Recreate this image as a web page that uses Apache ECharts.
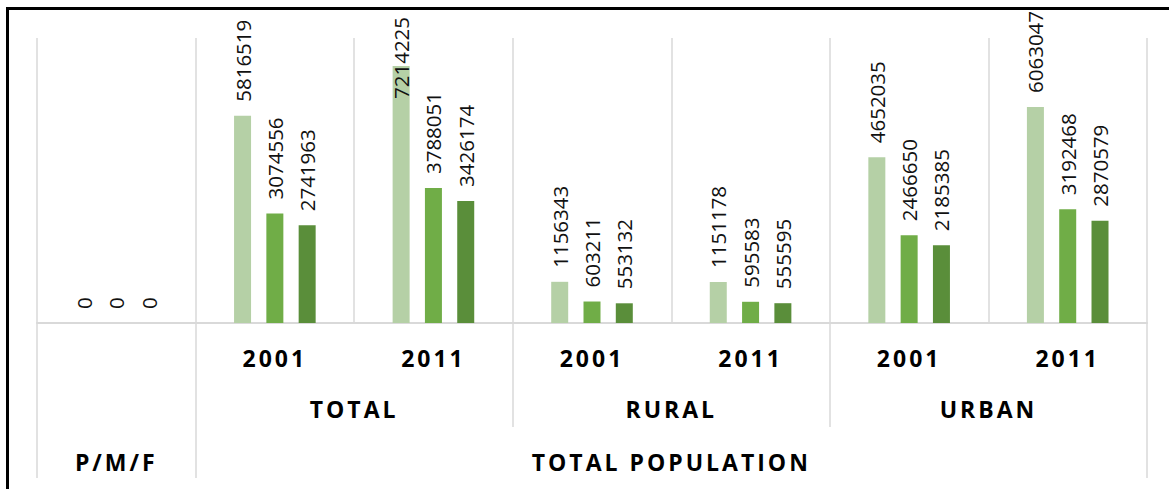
<!DOCTYPE html>
<html>
<head>
<meta charset="utf-8">
<script src="https://cdn.jsdelivr.net/npm/echarts@6/dist/echarts.min.js"></script>
<style>
  html, body { margin: 0; padding: 0; background: #fff; }
  #chart { width: 1169px; height: 489px; }
  /* spaced-out capitals / digits for the bold category labels */
  #chart svg text[style*="bold"] { letter-spacing: 3px; }
</style>
</head>
<body>
<div id="chart"></div>
<script>
// Census year under each bar group (first slot is the empty P/M/F group)
const yearLabels = ['', '2001', '2011', '2001', '2011', '2001', '2011'];
// Second level: area type, centred on its two years
const areaLabels = ['TOTAL', 'RURAL', 'URBAN'];
// Third level: outermost grouping
const outerLabels = ['P/M/F', 'TOTAL POPULATION'];

// Population counts: persons, males, females
const persons = [0, 5816519, 7214225, 1156343, 1151178, 4652035, 6063047];
const males   = [0, 3074556, 3788051,  603211,  595583, 2466650, 3192468];
const females = [0, 2741963, 3426174,  553132,  555595, 2185385, 2870579];

const colors = ['#b5d0a6', '#70ad47', '#5a8e3a'];
const gridColor = '#d9d9d9';
const font = "'Open Sans', 'DejaVu Sans', sans-serif";

const chart = echarts.init(document.getElementById('chart'), null, { renderer: 'svg' });

const valueLabel = {
  show: true,
  position: 'top',
  rotate: 90,
  align: 'left',
  verticalAlign: 'middle',
  distance: 14,
  fontFamily: font,
  fontSize: 20.5,
  color: '#111'
};

function barSeries(name, values, color, pushedIn) {
  return {
    name: name,
    type: 'bar',
    xAxisIndex: 0,
    yAxisIndex: 0,
    barWidth: 17,
    barGap: '90%',
    itemStyle: { color: color },
    label: valueLabel,
    // a label that would leave the chart is tucked down over its own bar
    data: values.map((v, i) => pushedIn === i ? { value: v, label: { distance: -33 } } : v)
  };
}

const n = yearLabels.length;
// centre of each area group in axis units (each group spans two years)
const areaPos = areaLabels.map((_, i) => 2 + 2 * i);
const outerPos = [0.5, 1 + (n - 1) / 2];

const boldLabel = {
  fontFamily: font,
  fontWeight: 'bold',
  fontSize: 23,
  lineHeight: 24,
  color: '#000'
};

chart.setOption({
  animation: false,
  grid: { left: 37, right: 22, top: 38, bottom: 166, containLabel: false },
  xAxis: [
    {
      type: 'category',
      data: yearLabels,
      position: 'bottom',
      axisLine: { show: true, lineStyle: { color: gridColor, width: 2 } },
      axisTick: { show: false },
      splitLine: { show: true, lineStyle: { color: gridColor, width: 1.5 } },
      axisLabel: Object.assign({ interval: 0, margin: 23 }, boldLabel)
    },
    {
      type: 'value',
      min: 0,
      max: n,
      position: 'bottom',
      axisLine: { show: false },
      splitLine: { show: false },
      axisTick: {
        show: true,
        customValues: [3, 5],
        length: 104,
        lineStyle: { color: gridColor, width: 1.5 }
      },
      axisLabel: Object.assign({
        customValues: areaPos,
        margin: 74,
        formatter: v => areaLabels[areaPos.indexOf(v)] || ''
      }, boldLabel)
    },
    {
      type: 'value',
      min: 0,
      max: n,
      position: 'bottom',
      axisLine: { show: false },
      splitLine: { show: false },
      axisTick: {
        show: true,
        customValues: [0, 1, n],
        length: 155,
        lineStyle: { color: gridColor, width: 1.5 }
      },
      axisLabel: Object.assign({
        customValues: outerPos,
        margin: 127,
        formatter: v => outerLabels[outerPos.indexOf(v)] || ''
      }, boldLabel)
    }
  ],
  yAxis: {
    type: 'value',
    min: 0,
    max: 8000000,
    show: false
  },
  series: [
    barSeries('Persons', persons, colors[0], 2),
    barSeries('Males', males, colors[1]),
    barSeries('Females', females, colors[2])
  ],
  graphic: [
    {
      type: 'rect',
      silent: true,
      shape: { x: 7.5, y: 8.5, width: 1300, height: 600 },
      style: { fill: 'none', stroke: '#000', lineWidth: 3 }
    }
  ]
});
</script>
</body>
</html>
